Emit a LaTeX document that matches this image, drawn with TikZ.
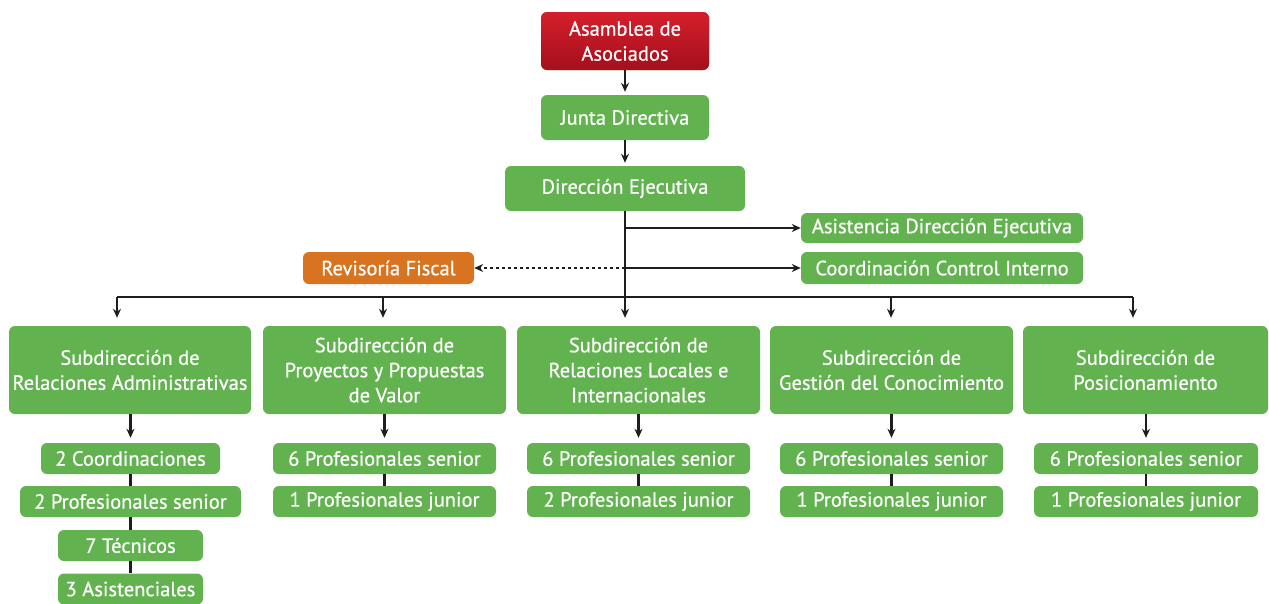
\documentclass[tikz,border=0pt]{standalone}
\usepackage{fontspec}
\setmainfont{PT Sans}
\newfontfamily\boxfont{PT Sans}[FakeBold=0.7]
\usetikzlibrary{arrows.meta}
\definecolor{gbox}{HTML}{62B24F}
\definecolor{obox}{HTML}{D8731F}
\definecolor{rtop}{HTML}{D41F2C}
\definecolor{rbot}{HTML}{A50F1C}
\definecolor{lnk}{HTML}{1E1E1E}
\tikzset{
  box/.style={rounded corners=6pt, fill=gbox, text=white, align=center, inner sep=0pt,
    font=\boxfont\fontsize{20.5}{25}\selectfont},
  arr/.style={draw=lnk, line width=2.1pt, -{Stealth[length=9pt,width=8pt]}},
  con/.style={draw=lnk, line width=2.1pt},
}
\begin{document}
\begin{tikzpicture}[x=1pt,y=-1pt]
\useasboundingbox (0,0) rectangle (1269,603);
% top chain
\node[box, top color=rtop, bottom color=rbot, minimum width=168pt, minimum height=58pt] (asam) at (625,41) {Asamblea de\\Asociados};
\node[box, minimum width=168pt, minimum height=45pt] (junta) at (625,117.5) {Junta Directiva};
\node[box, minimum width=240pt, minimum height=45pt] (dir) at (625,188.5) {Dirección Ejecutiva};
\node[box, minimum width=282pt, minimum height=30pt] (asis) at (942,228) {Asistencia Dirección Ejecutiva};
\node[box, minimum width=282pt, minimum height=32pt] (ctrl) at (942,268) {Coordinación Control Interno};
\node[box, fill=obox, minimum width=171pt, minimum height=32pt] (rev) at (388.5,268) {Revisoría Fiscal};
% subdirecciones
\node[box, minimum width=242pt, minimum height=88pt] (s1) at (130,370) {Subdirección de\\Relaciones Administrativas};
\node[box, minimum width=243pt, minimum height=88pt] (s2) at (384.5,370) {Subdirección de\\Proyectos y Propuestas\\de Valor};
\node[box, minimum width=243pt, minimum height=88pt] (s3) at (638.5,370) {Subdirección de\\Relaciones Locales e\\Internacionales};
\node[box, minimum width=243pt, minimum height=88pt] (s4) at (891.5,370) {Subdirección de\\Gestión del Conocimiento};
\node[box, minimum width=245pt, minimum height=88pt] (s5) at (1145.5,370) {Subdirección de\\Posicionamiento};
% level 3
\node[box, minimum width=179pt, minimum height=31pt] (a1) at (130.5,458.5) {2 Coordinaciones};
\node[box, minimum width=221pt, minimum height=31pt] (a2) at (130.5,501.5) {2 Profesionales senior};
\node[box, minimum width=145pt, minimum height=31pt] (a3) at (130.5,545.5) {7 Técnicos};
\node[box, minimum width=145pt, minimum height=31pt] (a4) at (130.5,589) {3 Asistenciales};
\node[box, minimum width=223pt, minimum height=31pt] (b1) at (384.5,458.5) {6 Profesionales senior};
\node[box, minimum width=223pt, minimum height=31pt] (b2) at (384.5,501.5) {1 Profesionales junior};
\node[box, minimum width=223pt, minimum height=31pt] (c1) at (638.5,458.5) {6 Profesionales senior};
\node[box, minimum width=223pt, minimum height=31pt] (c2) at (638.5,501.5) {2 Profesionales junior};
\node[box, minimum width=223pt, minimum height=31pt] (d1) at (891.5,458.5) {6 Profesionales senior};
\node[box, minimum width=223pt, minimum height=31pt] (d2) at (891.5,501.5) {1 Profesionales junior};
\node[box, minimum width=224pt, minimum height=31pt] (e1) at (1146,458.5) {6 Profesionales senior};
\node[box, minimum width=224pt, minimum height=31pt] (e2) at (1146,501.5) {1 Profesionales junior};
% coordinates
\coordinate (bus) at (625,297);
\coordinate (busL) at (117,297);
\coordinate (busR) at (1133,297);
\coordinate (k2) at (383,297);
\coordinate (k4) at (891,297);
\coordinate (tA) at (625,228);
\coordinate (tC) at (625,268);
% connectors
\draw[arr, shorten >=3pt] (asam) -- (junta);
\draw[arr, shorten >=3pt] (junta) -- (dir);
\draw[con] (dir.south) -- (bus);
\draw[con] (busL) -- (busR);
\draw[arr, line width=1.5pt] (tA) -- (asis.west);
\draw[arr, line width=1.5pt] (tC) -- (ctrl.west);
\draw[arr, dashed, line width=1.3pt] (tC) -- (rev.east);
\draw[arr, shorten >=8pt] (busL) -- (busL |- s1.north);
\draw[arr, shorten >=8pt] (k2) -- (k2 |- s2.north);
\draw[arr, shorten >=8pt] (bus) -- (bus |- s3.north);
\draw[arr, shorten >=8pt] (k4) -- (k4 |- s4.north);
\draw[arr, shorten >=8pt] (busR) -- (busR |- s5.north);
\draw[arr, shorten >=5pt] (s1.south -| a1) -- (a1);
\draw[arr, shorten >=5pt] (s2.south -| b1) -- (b1);
\draw[arr, shorten >=5pt] (s3.south -| c1) -- (c1);
\draw[arr, shorten >=5pt] (s4.south -| d1) -- (d1);
\draw[arr, shorten >=5pt] (s5.south -| e1) -- (e1);
\draw[con] (a1) -- (a2);
\draw[con] (a2) -- (a3);
\draw[con] (a3) -- (a4);
\draw[con] (b1) -- (b2);
\draw[con] (c1) -- (c2);
\draw[con] (d1) -- (d2);
\draw[con] (e1) -- (e2);
\end{tikzpicture}
\end{document}
